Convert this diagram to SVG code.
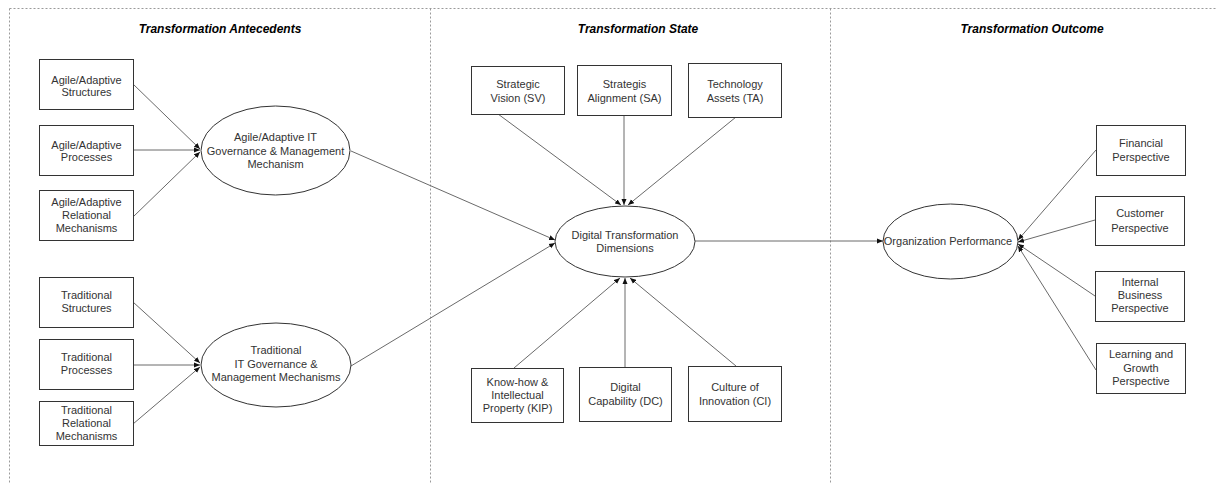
<svg xmlns="http://www.w3.org/2000/svg" width="1216" height="484" viewBox="0 0 1216 484">
<style>
.frame{fill:none;stroke:#9a9a9a;stroke-width:1;stroke-dasharray:2,2}
.box{fill:#fff;stroke:#333;stroke-width:1}
.ell{fill:#fff;stroke:#333;stroke-width:1}
.t{font-family:"Liberation Sans",Arial,sans-serif;font-size:11px;fill:#333;text-anchor:middle}
.title{font-family:"Liberation Sans",Arial,sans-serif;font-size:12px;font-weight:bold;font-style:italic;fill:#000;text-anchor:middle}
.c{fill:none;stroke:#6a6a6a;stroke-width:1}
</style>
<defs>
<marker id="ah" viewBox="0 0 6 6" refX="6" refY="3" markerWidth="6" markerHeight="6" orient="auto" markerUnits="userSpaceOnUse">
<path d="M0,0.5 L6,3 L0,5.5 Z" fill="#111"/>
</marker>
</defs>
<rect width="1216" height="484" fill="#fff"/>
<g id="frame">
<line class="frame" x1="9.5" y1="8.5" x2="1216" y2="8.5"/>
<line class="frame" x1="9.5" y1="8.5" x2="9.5" y2="484"/>
<line class="frame" x1="430.5" y1="8.5" x2="430.5" y2="484"/>
<line class="frame" x1="830.5" y1="8.5" x2="830.5" y2="484"/>
</g>
<g id="titles">
<text class="title" x="220" y="33">Transformation Antecedents</text>
<text class="title" x="638" y="33">Transformation State</text>
<text class="title" x="1032" y="33">Transformation Outcome</text>
</g>
<g id="connectors">
<line class="c" x1="133" y1="84" x2="200" y2="149" marker-end="url(#ah)"/>
<line class="c" x1="133" y1="150" x2="200" y2="150" marker-end="url(#ah)"/>
<line class="c" x1="133" y1="217" x2="200" y2="152" marker-end="url(#ah)"/>
<line class="c" x1="133" y1="302" x2="200" y2="363" marker-end="url(#ah)"/>
<line class="c" x1="133" y1="365" x2="200" y2="365" marker-end="url(#ah)"/>
<line class="c" x1="133" y1="424" x2="200" y2="367" marker-end="url(#ah)"/>
<line class="c" x1="351" y1="151" x2="555" y2="240" marker-end="url(#ah)"/>
<line class="c" x1="351" y1="366" x2="555" y2="243" marker-end="url(#ah)"/>
<line class="c" x1="498" y1="114" x2="621" y2="205" marker-end="url(#ah)"/>
<line class="c" x1="624" y1="116" x2="624" y2="205" marker-end="url(#ah)"/>
<line class="c" x1="736" y1="117" x2="628" y2="205" marker-end="url(#ah)"/>
<line class="c" x1="514" y1="368" x2="620" y2="278" marker-end="url(#ah)"/>
<line class="c" x1="625" y1="367" x2="625" y2="278" marker-end="url(#ah)"/>
<line class="c" x1="736" y1="366" x2="630" y2="278" marker-end="url(#ah)"/>
<line class="c" x1="695" y1="241" x2="883" y2="241" marker-end="url(#ah)"/>
<line class="c" x1="1096" y1="150" x2="1018" y2="240" marker-end="url(#ah)"/>
<line class="c" x1="1095" y1="220" x2="1018" y2="242" marker-end="url(#ah)"/>
<line class="c" x1="1095" y1="296" x2="1018" y2="244" marker-end="url(#ah)"/>
<line class="c" x1="1096" y1="370" x2="1018" y2="246" marker-end="url(#ah)"/>
</g>
<g id="n-agile-structures">
<rect class="box" x="39.5" y="59.5" width="94" height="50"/>
<text class="t" x="86.5" y="84">Agile/Adaptive</text>
<text class="t" x="86.5" y="96">Structures</text>
</g>
<g id="n-agile-processes">
<rect class="box" x="39.5" y="125.5" width="94" height="50"/>
<text class="t" x="86.5" y="149">Agile/Adaptive</text>
<text class="t" x="86.5" y="161">Processes</text>
</g>
<g id="n-agile-relational">
<rect class="box" x="39.5" y="190.5" width="94" height="50"/>
<text class="t" x="86.5" y="206">Agile/Adaptive</text>
<text class="t" x="86.5" y="219">Relational</text>
<text class="t" x="86.5" y="232">Mechanisms</text>
</g>
<g id="n-agile-itgm">
<ellipse class="ell" cx="275.5" cy="150.5" rx="74.5" ry="44.5"/>
<text class="t" x="275.5" y="141">Agile/Adaptive IT</text>
<text class="t" x="275.5" y="155">Governance &amp; Management</text>
<text class="t" x="275.5" y="168">Mechanism</text>
</g>
<g id="n-trad-structures">
<rect class="box" x="39.5" y="277.5" width="94" height="50"/>
<text class="t" x="86.5" y="299">Traditional</text>
<text class="t" x="86.5" y="312">Structures</text>
</g>
<g id="n-trad-processes">
<rect class="box" x="39.5" y="339.5" width="94" height="50"/>
<text class="t" x="86.5" y="361">Traditional</text>
<text class="t" x="86.5" y="374">Processes</text>
</g>
<g id="n-trad-relational">
<rect class="box" x="39.5" y="401.5" width="94" height="44"/>
<text class="t" x="86.5" y="414">Traditional</text>
<text class="t" x="86.5" y="427">Relational</text>
<text class="t" x="86.5" y="440">Mechanisms</text>
</g>
<g id="n-trad-itgm">
<ellipse class="ell" cx="276" cy="365" rx="75" ry="42"/>
<text class="t" x="276" y="354">Traditional</text>
<text class="t" x="276" y="368">IT Governance &amp;</text>
<text class="t" x="276" y="381">Management Mechanisms</text>
</g>
<g id="n-sv">
<rect class="box" x="471.5" y="66.5" width="93" height="48"/>
<text class="t" x="518" y="88">Strategic</text>
<text class="t" x="518" y="102">Vision (SV)</text>
</g>
<g id="n-sa">
<rect class="box" x="577.5" y="65.5" width="94" height="50"/>
<text class="t" x="624.5" y="88">Strategis</text>
<text class="t" x="624.5" y="102">Alignment (SA)</text>
</g>
<g id="n-ta">
<rect class="box" x="688.5" y="63.5" width="93" height="54"/>
<text class="t" x="735" y="88">Technology</text>
<text class="t" x="735" y="102">Assets (TA)</text>
</g>
<g id="n-dtd">
<ellipse class="ell" cx="625" cy="241.5" rx="70" ry="35.5"/>
<text class="t" x="625" y="239">Digital Transformation</text>
<text class="t" x="625" y="252">Dimensions</text>
</g>
<g id="n-kip">
<rect class="box" x="471.5" y="368.5" width="92" height="54"/>
<text class="t" x="517.5" y="386">Know-how &amp;</text>
<text class="t" x="517.5" y="399">Intellectual</text>
<text class="t" x="517.5" y="412">Property (KIP)</text>
</g>
<g id="n-dc">
<rect class="box" x="579.5" y="367.5" width="92" height="54"/>
<text class="t" x="625.5" y="391">Digital</text>
<text class="t" x="625.5" y="405">Capability (DC)</text>
</g>
<g id="n-ci">
<rect class="box" x="688.5" y="366.5" width="93" height="55"/>
<text class="t" x="735" y="391">Culture of</text>
<text class="t" x="735" y="405">Innovation (CI)</text>
</g>
<g id="n-op">
<ellipse class="ell" cx="950.5" cy="241.5" rx="67.5" ry="37.5"/>
<text class="t" x="948" y="245">Organization Performance</text>
</g>
<g id="n-fin">
<rect class="box" x="1096.5" y="125.5" width="89" height="50"/>
<text class="t" x="1141" y="147">Financial</text>
<text class="t" x="1141" y="161">Perspective</text>
</g>
<g id="n-cust">
<rect class="box" x="1095.5" y="196.5" width="89" height="49"/>
<text class="t" x="1140" y="217">Customer</text>
<text class="t" x="1140" y="232">Perspective</text>
</g>
<g id="n-int">
<rect class="box" x="1095.5" y="271.5" width="89" height="50"/>
<text class="t" x="1140" y="286">Internal</text>
<text class="t" x="1140" y="299">Business</text>
<text class="t" x="1140" y="312">Perspective</text>
</g>
<g id="n-learn">
<rect class="box" x="1096.5" y="343.5" width="89" height="50"/>
<text class="t" x="1141" y="358">Learning and</text>
<text class="t" x="1141" y="372">Growth</text>
<text class="t" x="1141" y="385">Perspective</text>
</g>
</svg>
